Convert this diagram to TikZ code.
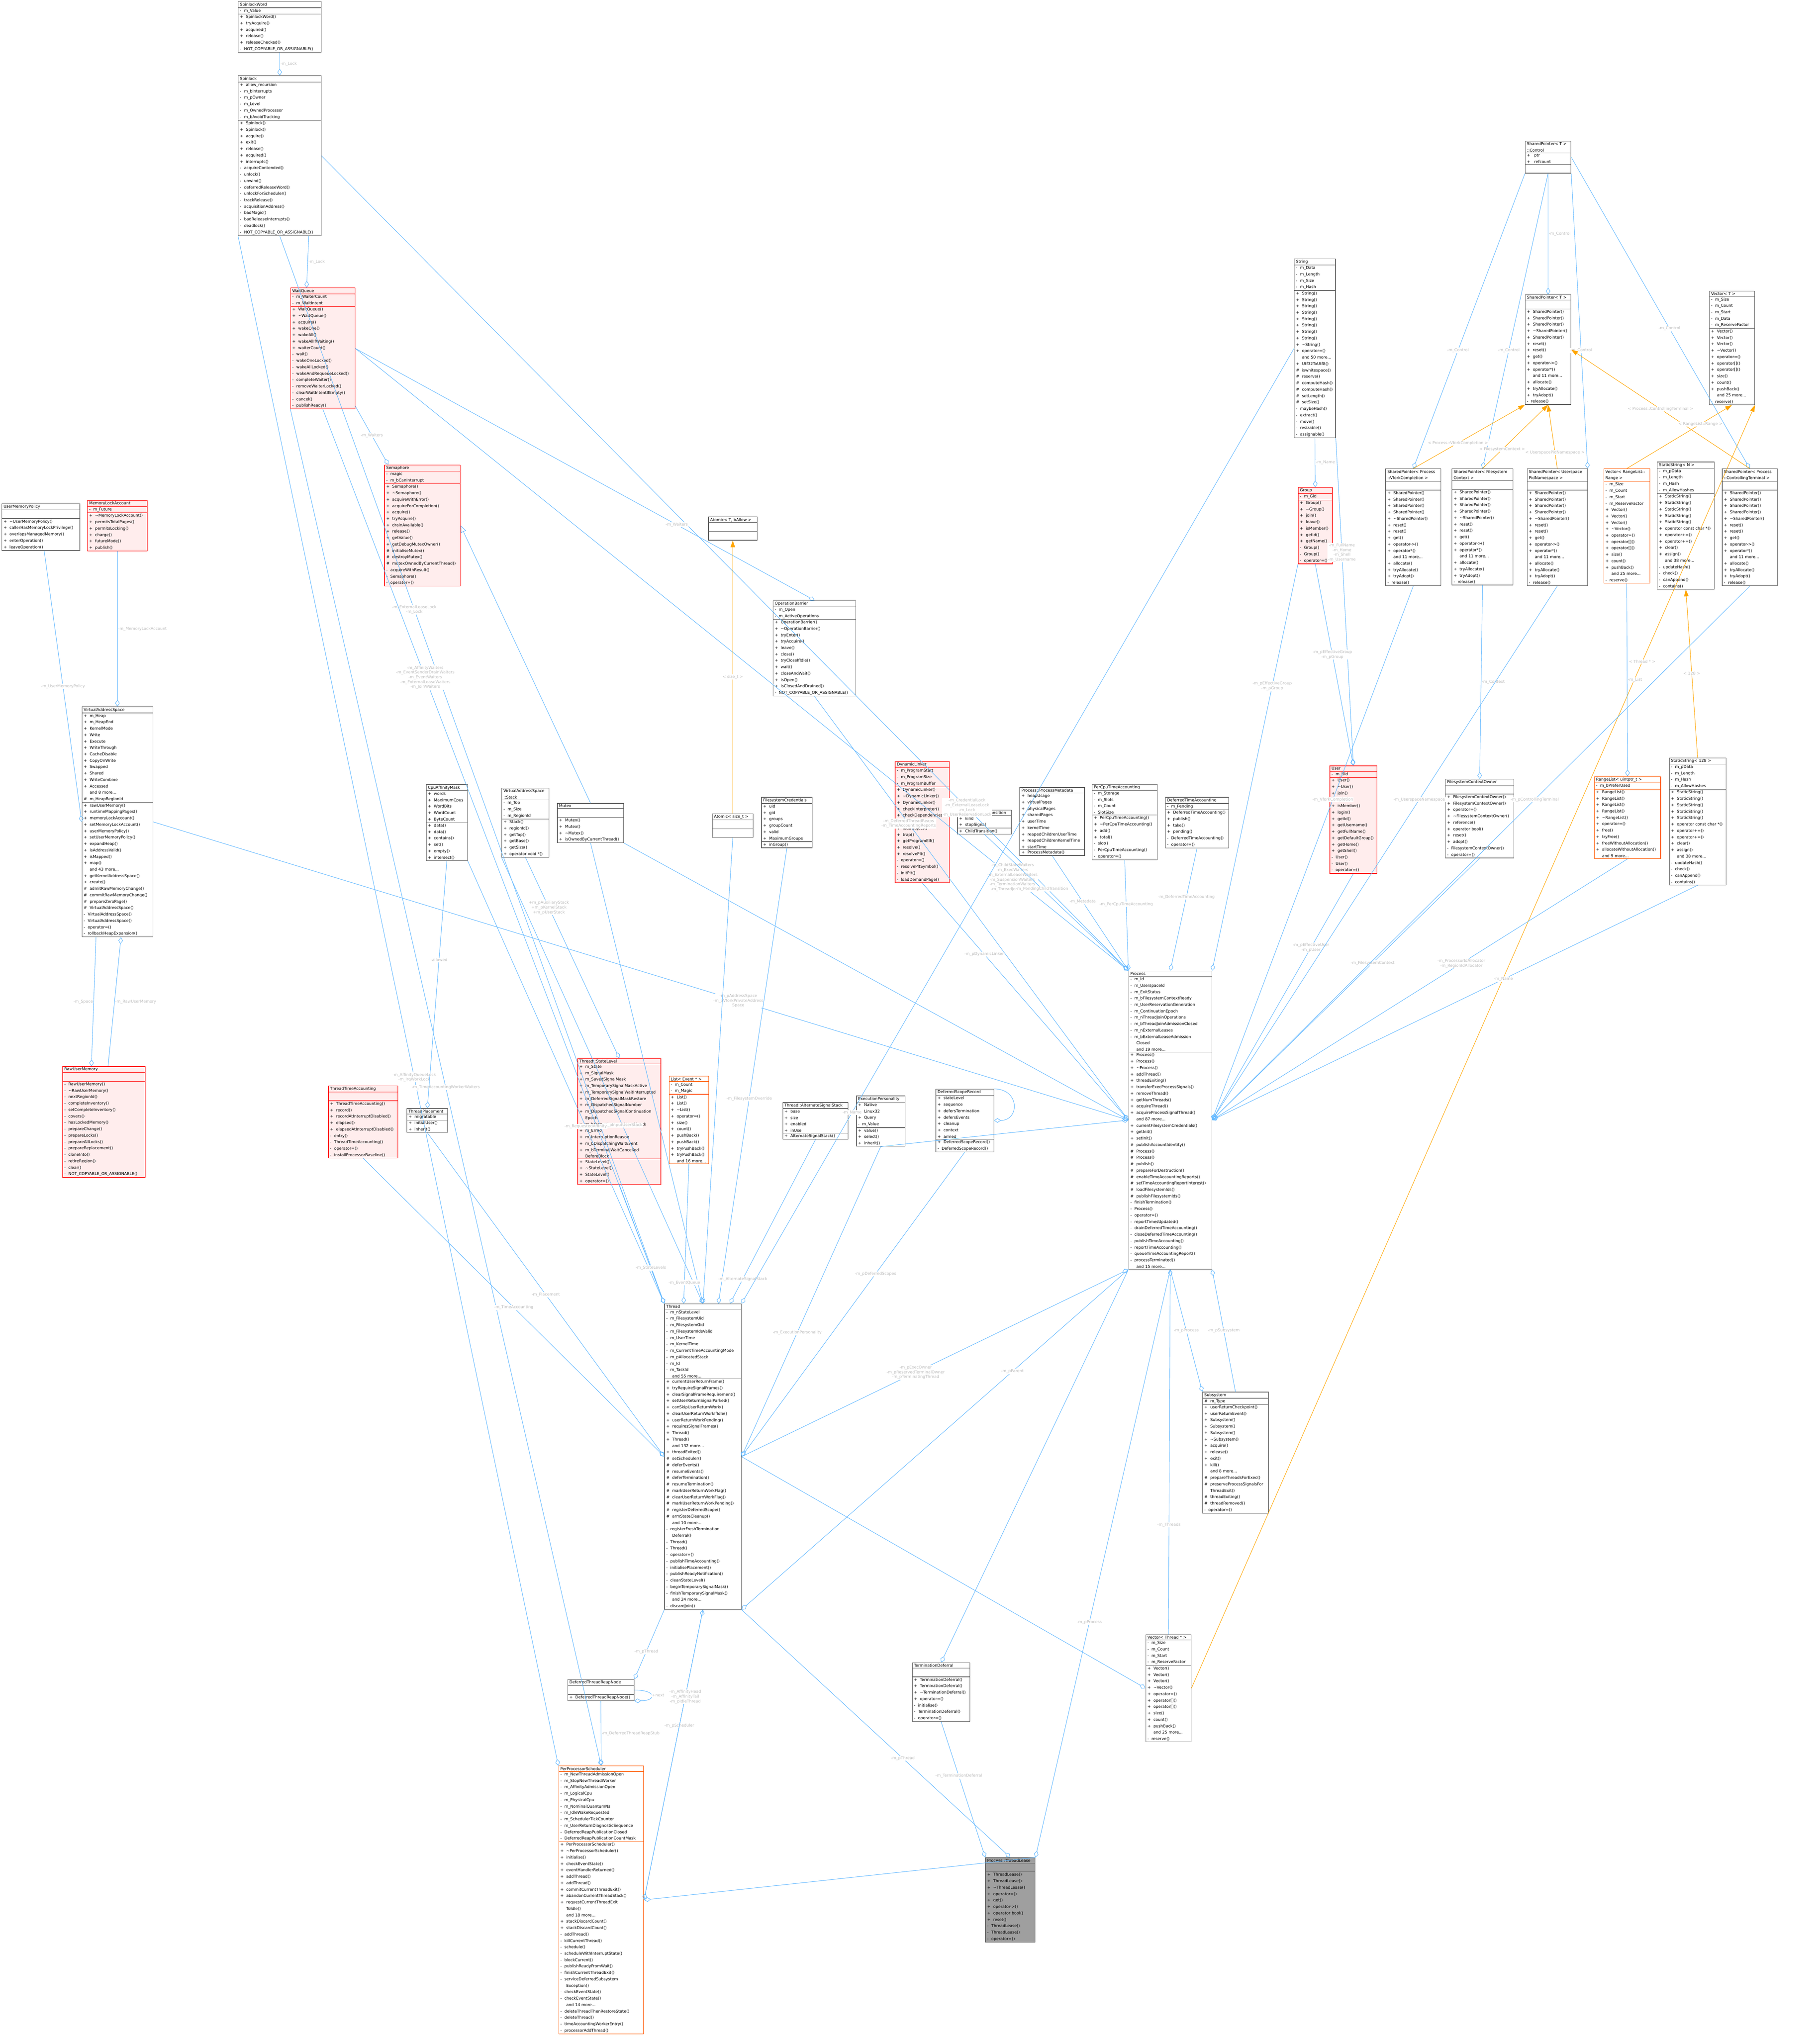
\documentclass[tikz,border=0pt]{standalone}
\usepackage{fontspec}
\setmainfont{DejaVu Sans}
\usetikzlibrary{shapes.multipart, arrows.meta, positioning, calc}
\definecolor{edgeblue}{RGB}{99,184,255}
\definecolor{tmplorange}{RGB}{255,165,0}
\definecolor{lblgray}{RGB}{190,190,190}
\tikzset{
  cls/.style={rectangle split, rectangle split parts=3, draw=gray!75!black, line width=0.45pt,
    rectangle split part align={center,left,left}, anchor=north west, fill=white,
    inner xsep=1.5pt, inner ysep=0.8pt, font=\fontsize{3.5}{5.65}\selectfont},
  redcls/.style={cls, draw=red, fill=red!7},
  orcls/.style={cls, draw=orange!70!red},
  greycls/.style={cls, fill=gray!75},
  mem/.style={draw=edgeblue, line width=0.4pt, -{Diamond[open,length=6pt,width=4pt]}},
  inh/.style={draw=edgeblue, line width=0.4pt, -{Triangle[open,length=6pt,width=5pt]}},
  tmpl/.style={draw=tmplorange, line width=0.4pt, -{Triangle[length=6pt,width=4pt]}},
  lbl/.style={text=lblgray, font=\fontsize{3.5}{4.2}\selectfont, align=center, fill=white, inner sep=0.5pt}
}
\begin{document}
\begin{tikzpicture}
\useasboundingbox (0,0) rectangle (56.35,-63.08);
% locks and wait queues
\node[cls, text width=2.46cm] (spinlockword) at (7.37,-0.04) {SpinlockWord
  \nodepart{two} - \ m\_Value
  \nodepart{three} + \ SpinlockWord()\\+ \ tryAcquire()\\+ \ acquired()\\+ \ release()\\+ \ releaseChecked()\\- \ NOT\_COPYABLE\_OR\_ASSIGNABLE()};
\node[cls, text width=2.46cm] (spinlock) at (7.37,-2.34) {Spinlock
  \nodepart{two} + \ allow\_recursion\\- \ m\_bInterrupts\\- \ m\_pOwner\\- \ m\_Level\\- \ m\_OwnedProcessor\\- \ m\_bAvoidTracking
  \nodepart{three} + \ Spinlock()\\+ \ Spinlock()\\+ \ acquire()\\+ \ exit()\\+ \ release()\\+ \ acquired()\\+ \ interrupts()\\- \ acquireContended()\\- \ unlock()\\- \ unwind()\\- \ deferredReleaseWord()\\- \ unlockForScheduler()\\- \ trackRelease()\\- \ acquisitionAddress()\\- \ badMagic()\\- \ badReleaseInterrupts()\\- \ deadlock()\\- \ NOT\_COPYABLE\_OR\_ASSIGNABLE()};
\node[redcls, text width=1.89cm] (waitqueue) at (8.99,-8.91) {WaitQueue
  \nodepart{two} - \ m\_WaiterCount\\- \ m\_WaitIntent
  \nodepart{three} + \ WaitQueue()\\+ \ \textasciitilde WaitQueue()\\+ \ acquire()\\+ \ wakeOne()\\+ \ wakeAll()\\+ \ wakeAllIfWaiting()\\+ \ waiterCount()\\- \ wait()\\- \ wakeOneLocked()\\- \ wakeAllLocked()\\- \ wakeAndRequeueLocked()\\- \ completeWaiter()\\- \ removeWaiterLocked()\\- \ clearWaitIntentIfEmpty()\\- \ cancel()\\- \ publishReady()};
\node[redcls, text width=2.24cm] (semaphore) at (11.90,-14.39) {Semaphore
  \nodepart{two} - \ magic\\- \ m\_bCanInterrupt
  \nodepart{three} + \ Semaphore()\\+ \ \textasciitilde Semaphore()\\+ \ acquireWithError()\\+ \ acquireForCompletion()\\+ \ acquire()\\+ \ tryAcquire()\\+ \ drainAvailable()\\+ \ release()\\+ \ getValue()\\+ \ getDebugMutexOwner()\\\# \ initialiseMutex()\\\# \ destroyMutex()\\\# \ mutexOwnedByCurrentThread()\\- \ acquireWithResult()\\- \ Semaphore()\\- \ operator=()};
% memory
\node[cls, text width=2.31cm] (usermempolicy) at (0.05,-15.59) {UserMemoryPolicy
  \nodepart{two} \strut
  \nodepart{three} + \ \textasciitilde UserMemoryPolicy()\\+ \ callerHasMemoryLockPrivilege()\\+ \ overlapsManagedMemory()\\+ \ enterOperation()\\+ \ leaveOperation()};
\node[redcls, text width=1.75cm] (memlockaccount) at (2.70,-15.49) {MemoryLockAccount
  \nodepart{two} - \ m\_Future
  \nodepart{three} + \ \textasciitilde MemoryLockAccount()\\+ \ permitsTotalPages()\\+ \ permitsLocking()\\+ \ charge()\\+ \ futureMode()\\+ \ publish()};
\node[cls, text width=2.09cm] (addrspace) at (2.53,-21.88) {VirtualAddressSpace
  \nodepart{two} + \ m\_Heap\\+ \ m\_HeapEnd\\+ \ KernelMode\\+ \ Write\\+ \ Execute\\+ \ WriteThrough\\+ \ CacheDisable\\+ \ CopyOnWrite\\+ \ Swapped\\+ \ Shared\\+ \ WriteCombine\\+ \ Accessed\\\phantom{+} \ and 8 more...\\\# \ m\_HeapRegionId
  \nodepart{three} + \ rawUserMemory()\\+ \ runtimeMappingPages()\\+ \ memoryLockAccount()\\+ \ setMemoryLockAccount()\\+ \ userMemoryPolicy()\\+ \ setUserMemoryPolicy()\\+ \ expandHeap()\\+ \ isAddressValid()\\+ \ isMapped()\\+ \ map()\\\phantom{+} \ and 43 more...\\+ \ getKernelAddressSpace()\\+ \ create()\\\# \ admitRawMemoryChange()\\\# \ commitRawMemoryChange()\\\# \ prepareZeroPage()\\\# \ VirtualAddressSpace()\\- \ VirtualAddressSpace()\\- \ VirtualAddressSpace()\\- \ operator=()\\- \ rollbackHeapExpansion()};
\node[redcls, text width=2.45cm] (rawusermem) at (1.93,-33.02) {RawUserMemory
  \nodepart{two} \strut
  \nodepart{three} - \ RawUserMemory()\\- \ \textasciitilde RawUserMemory()\\- \ nextRegionId()\\- \ completeInventory()\\- \ setCompleteInventory()\\- \ covers()\\- \ hasLockedMemory()\\- \ prepareChange()\\- \ prepareLocks()\\- \ prepareAllLocks()\\- \ prepareReplacement()\\- \ cloneInto()\\- \ retireRegion()\\- \ clear()\\- \ NOT\_COPYABLE\_OR\_ASSIGNABLE()};
\node[cls, text width=1.17cm] (cpuaffinity) at (13.19,-24.29) {CpuAffinityMask
  \nodepart{two} + \ words\\+ \ MaximumCpus\\+ \ WordBits\\+ \ WordCount\\+ \ ByteCount
  \nodepart{three} + \ data()\\+ \ data()\\+ \ contains()\\+ \ set()\\+ \ empty()\\+ \ intersect()};
\node[cls, text width=1.36cm] (vastack) at (15.53,-24.40) {VirtualAddressSpace\\::Stack
  \nodepart{two} - \ m\_Top\\- \ m\_Size\\- \ m\_RegionId
  \nodepart{three} + \ Stack()\\+ \ regionId()\\+ \ getTop()\\+ \ getBase()\\+ \ getSize()\\+ \ operator void *()};
\node[cls, text width=1.95cm] (mutex) at (17.25,-24.87) {Mutex
  \nodepart{two} \strut
  \nodepart{three} + \ Mutex()\\+ \ Mutex()\\+ \ \textasciitilde Mutex()\\+ \ isOwnedByCurrentThread()};
% thread parts
\node[redcls, text width=2.05cm] (threadtime) at (10.16,-33.62) {ThreadTimeAccounting
  \nodepart{two} \strut
  \nodepart{three} + \ ThreadTimeAccounting()\\+ \ record()\\+ \ recordAtInterruptDisabled()\\+ \ elapsed()\\+ \ elapsedAtInterruptDisabled()\\- \ entry()\\- \ ThreadTimeAccounting()\\- \ operator=()\\- \ installProcessorBaseline()};
\node[cls, text width=1.16cm] (placement) at (12.59,-34.32) {ThreadPlacement
  \nodepart{two} + \ migratable
  \nodepart{three} + \ initialUser()\\+ \ inherit()};
\node[redcls, text width=2.47cm] (statelevel) at (17.88,-32.77) {Thread::StateLevel
  \nodepart{two} + \ m\_State\\+ \ m\_SignalMask\\+ \ m\_SavedSignalMask\\+ \ m\_TemporarySignalMaskActive\\+ \ m\_TemporarySignalWaitInterrupted\\+ \ m\_DeferredSignalMaskRestore\\+ \ m\_DispatchedSignalNumber\\+ \ m\_DispatchedSignalContinuation\\\phantom{+} \ Epoch\\+ \ m\_bOwnsAlternateSignalStack\\+ \ m\_Errno\\+ \ m\_InterruptionReason\\+ \ m\_bDispatchingWaitEvent\\+ \ m\_bTerminalWaitCancelled\\\phantom{+} \ BeforeBlock
  \nodepart{three} + \ StateLevel()\\+ \ \textasciitilde StateLevel()\\+ \ StateLevel()\\+ \ operator=()};
\node[orcls, text width=1.12cm] (eventlist) at (20.71,-33.32) {List< Event * >
  \nodepart{two} - \ m\_Count\\- \ m\_Magic
  \nodepart{three} + \ List()\\+ \ List()\\+ \ \textasciitilde List()\\+ \ operator=()\\+ \ size()\\+ \ count()\\+ \ pushBack()\\+ \ pushBack()\\+ \ tryPushBack()\\+ \ tryPushBack()\\\phantom{+} \ and 16 more...};
\node[cls, text width=1.92cm] (altstack) at (24.23,-34.13) {Thread::AlternateSignalStack
  \nodepart{two} + \ base\\+ \ size\\+ \ enabled\\+ \ inUse
  \nodepart{three} + \ AlternateSignalStack()};
\node[cls, text width=1.40cm] (personality) at (26.51,-33.93) {ExecutionPersonality
  \nodepart{two} + \ Native\\+ \ Linux32\\+ \ Query\\- \ m\_Value
  \nodepart{three} + \ value()\\+ \ select()\\+ \ inherit()};
\node[cls, text width=1.69cm] (scoperecord) at (28.97,-33.72) {DeferredScopeRecord
  \nodepart{two} + \ stateLevel\\+ \ sequence\\+ \ defersTermination\\+ \ defersEvents\\+ \ cleanup\\+ \ context\\+ \ armed
  \nodepart{three} + \ DeferredScopeRecord()\\- \ DeferredScopeRecord()};
\node[cls, text width=2.27cm] (thread) at (20.57,-40.37) {Thread
  \nodepart{two} - \ m\_nStateLevel\\- \ m\_FilesystemUid\\- \ m\_FilesystemGid\\- \ m\_FilesystemIdsValid\\- \ m\_UserTime\\- \ m\_KernelTime\\- \ m\_CurrentTimeAccountingMode\\- \ m\_pAllocatedStack\\- \ m\_Id\\- \ m\_TaskId\\\phantom{+} \ and 55 more...
  \nodepart{three} + \ currentUserReturnFrame()\\+ \ tryRequireSignalFrames()\\+ \ clearSignalFrameRequirement()\\+ \ setUserReturnSignalParked()\\+ \ canSkipUserReturnWork()\\+ \ clearUserReturnWorkIfIdle()\\+ \ userReturnWorkPending()\\+ \ requiresSignalFrames()\\+ \ Thread()\\+ \ Thread()\\\phantom{+} \ and 132 more...\\+ \ threadExited()\\\# \ setScheduler()\\\# \ deferEvents()\\\# \ resumeEvents()\\\# \ deferTermination()\\\# \ resumeTermination()\\\# \ markUserReturnWorkFlag()\\\# \ clearUserReturnWorkFlag()\\\# \ markUserReturnWorkPending()\\\# \ registerDeferredScope()\\\# \ armStateCleanup()\\\phantom{+} \ and 10 more...\\- \ registerFreshTermination\\\phantom{+} \ Deferral()\\- \ Thread()\\- \ Thread()\\- \ operator=()\\- \ publishTimeAccounting()\\- \ initialisePlacement()\\- \ publishReadyNotification()\\- \ cleanStateLevel()\\- \ beginTemporarySignalMask()\\- \ finishTemporarySignalMask()\\\phantom{+} \ and 24 more...\\- \ discardJoin()};
% scheduler side
\node[cls, text width=1.95cm] (reapnode) at (17.57,-52.00) {DeferredThreadReapNode
  \nodepart{two} \strut
  \nodepart{three} + \ DeferredThreadReapNode()};
\node[orcls, text width=2.53cm] (scheduler) at (17.29,-54.68) {PerProcessorScheduler
  \nodepart{two} - \ m\_NewThreadAdmissionOpen\\- \ m\_StopNewThreadWorker\\- \ m\_AffinityAdmissionOpen\\- \ m\_LogicalCpu\\- \ m\_PhysicalCpu\\- \ m\_NominalQuantumNs\\- \ m\_IdleWakeRequested\\- \ m\_SchedulerTickCounter\\- \ m\_UserReturnDiagnosticSequence\\- \ DeferredReapPublicationClosed\\- \ DeferredReapPublicationCountMask
  \nodepart{three} + \ PerProcessorScheduler()\\+ \ \textasciitilde PerProcessorScheduler()\\+ \ initialise()\\+ \ checkEventState()\\+ \ eventHandlerReturned()\\+ \ addThread()\\+ \ addThread()\\+ \ commitCurrentThreadExit()\\+ \ abandonCurrentThreadStack()\\+ \ requestCurrentThreadExit\\\phantom{+} \ ToIdle()\\\phantom{+} \ and 18 more...\\+ \ stackDiscardCount()\\+ \ stackDiscardCount()\\- \ addThread()\\- \ killCurrentThread()\\- \ schedule()\\- \ scheduleWithInterruptState()\\- \ blockCurrent()\\- \ publishReadyFromWait()\\- \ finishCurrentThreadExit()\\- \ serviceDeferredSubsystem\\\phantom{+} \ Exception()\\- \ checkEventState()\\- \ checkEventState()\\\phantom{+} \ and 14 more...\\- \ deleteThreadThenRestoreState()\\- \ deleteThread()\\- \ timeAccountingWorkerEntry()\\- \ processorAddThread()};
\node[cls, text width=1.68cm] (termdeferral) at (28.24,-51.48) {TerminationDeferral
  \nodepart{two} \strut
  \nodepart{three} + \ TerminationDeferral()\\+ \ TerminationDeferral()\\+ \ \textasciitilde TerminationDeferral()\\+ \ operator=()\\- \ initialise()\\- \ TerminationDeferral()\\- \ operator=()};
\node[greycls, text width=1.43cm] (threadlease) at (30.51,-57.52) {Process::ThreadLease
  \nodepart{two} \strut
  \nodepart{three} + \ ThreadLease()\\+ \ ThreadLease()\\+ \ \textasciitilde ThreadLease()\\+ \ operator=()\\+ \ get()\\+ \ operator->()\\+ \ operator bool()\\+ \ reset()\\- \ ThreadLease()\\- \ ThreadLease()\\- \ operator=()};
\node[cls, text width=1.30cm] (threadvector) at (35.47,-50.61) {Vector< Thread * >
  \nodepart{two} - \ m\_Size\\- \ m\_Count\\- \ m\_Start\\- \ m\_ReserveFactor
  \nodepart{three} + \ Vector()\\+ \ Vector()\\+ \ Vector()\\+ \ \textasciitilde Vector()\\+ \ operator=()\\+ \ operator[]()\\+ \ operator[]()\\+ \ size()\\+ \ count()\\+ \ pushBack()\\\phantom{+} \ and 25 more...\\- \ reserve()};
\node[cls, text width=1.93cm] (subsystem) at (37.23,-43.10) {Subsystem
  \nodepart{two} \# \ m\_Type
  \nodepart{three} + \ userReturnCheckpoint()\\+ \ userReturnEvent()\\+ \ Subsystem()\\+ \ Subsystem()\\+ \ Subsystem()\\+ \ \textasciitilde Subsystem()\\+ \ acquire()\\+ \ release()\\+ \ exit()\\+ \ kill()\\\phantom{+} \ and 8 more...\\\# \ prepareThreadsForExec()\\\# \ preserveProcessSignalsFor\\\phantom{+} \ ThreadExit()\\\# \ threadExiting()\\\# \ threadRemoved()\\- \ operator=()};
% process parts
\node[cls, text width=1.40cm] (atomicT) at (21.93,-16.00) {Atomic< T, bAllow >
  \nodepart{two} \strut
  \nodepart{three} \strut};
\node[cls, text width=1.16cm] (atomicsize) at (22.05,-25.19) {Atomic< size\_t >
  \nodepart{two} \strut
  \nodepart{three} \strut};
\node[cls, text width=2.46cm] (barrier) at (23.93,-18.59) {OperationBarrier
  \nodepart{two} - \ m\_Open\\- \ m\_ActiveOperations
  \nodepart{three} + \ OperationBarrier()\\+ \ \textasciitilde OperationBarrier()\\+ \ tryEnter()\\+ \ tryAcquire()\\+ \ leave()\\+ \ close()\\+ \ tryCloseIfIdle()\\+ \ wait()\\+ \ closeAndWait()\\+ \ isOpen()\\+ \ isClosedAndDrained()\\- \ NOT\_COPYABLE\_OR\_ASSIGNABLE()};
\node[cls, text width=1.47cm] (fscreds) at (23.57,-24.68) {FilesystemCredentials
  \nodepart{two} + \ uid\\+ \ gid\\+ \ groups\\+ \ groupCount\\+ \ valid\\+ \ MaximumGroups
  \nodepart{three} + \ inGroup()};
\node[redcls, text width=1.58cm] (dynlinker) at (27.71,-23.58) {DynamicLinker
  \nodepart{two} - \ m\_ProgramStart\\- \ m\_ProgramSize\\- \ m\_ProgramBuffer
  \nodepart{three} + \ DynamicLinker()\\+ \ \textasciitilde DynamicLinker()\\+ \ DynamicLinker()\\+ \ checkInterpreter()\\+ \ checkDependencies()\\+ \ loadProgram()\\+ \ loadObject()\\+ \ trap()\\+ \ getProgramElf()\\+ \ resolve()\\+ \ resolvePlt()\\- \ operator=()\\- \ resolvePltSymbol()\\- \ initPlt()\\- \ loadDemandPage()};
\node[cls, text width=1.56cm] (childtrans) at (29.64,-25.08) {Process::ChildTransition
  \nodepart{two} + \ kind\\+ \ stopSignal
  \nodepart{three} + \ ChildTransition()};
\node[cls, text width=1.90cm] (metadata) at (31.57,-24.38) {Process::ProcessMetadata
  \nodepart{two} + \ heapUsage\\+ \ virtualPages\\+ \ physicalPages\\+ \ sharedPages\\+ \ userTime\\+ \ kernelTime\\+ \ reapedChildrenUserTime\\+ \ reapedChildrenKernelTime\\+ \ startTime
  \nodepart{three} + \ ProcessMetadata()};
\node[cls, text width=1.91cm] (percpu) at (33.81,-24.28) {PerCpuTimeAccounting
  \nodepart{two} - \ m\_Storage\\- \ m\_Slots\\- \ m\_Count\\- \ SlotSize
  \nodepart{three} + \ PerCpuTimeAccounting()\\+ \ \textasciitilde PerCpuTimeAccounting()\\+ \ add()\\+ \ total()\\- \ slot()\\- \ PerCpuTimeAccounting()\\- \ operator=()};
\node[cls, text width=1.85cm] (deferredtime) at (36.08,-24.68) {DeferredTimeAccounting
  \nodepart{two} - \ m\_Pending
  \nodepart{three} + \ DeferredTimeAccounting()\\+ \ publish()\\+ \ take()\\+ \ pending()\\- \ DeferredTimeAccounting()\\- \ operator=()};
\node[cls, text width=2.47cm] (process) at (34.94,-30.06) {Process
  \nodepart{two} - \ m\_Id\\- \ m\_UserspaceId\\- \ m\_ExitStatus\\- \ m\_bFilesystemContextReady\\- \ m\_UserReservationGeneration\\- \ m\_ContinuationEpoch\\- \ m\_nThreadJoinOperations\\- \ m\_bThreadJoinAdmissionClosed\\- \ m\_nExternalLeases\\- \ m\_bExternalLeaseAdmission\\\phantom{+} \ Closed\\\phantom{+} \ and 19 more...
  \nodepart{three} + \ Process()\\+ \ Process()\\+ \ \textasciitilde Process()\\+ \ addThread()\\+ \ threadExiting()\\+ \ transferExecProcessSignals()\\+ \ removeThread()\\+ \ getNumThreads()\\+ \ acquireThread()\\+ \ acquireProcessSignalThread()\\\phantom{+} \ and 87 more...\\+ \ currentFilesystemCredentials()\\+ \ getInit()\\+ \ setInit()\\\# \ publishAccountIdentity()\\\# \ Process()\\\# \ Process()\\\# \ publish()\\\# \ prepareForDestruction()\\\# \ enableTimeAccountingReports()\\\# \ setTimeAccountingReportInterest()\\\# \ loadFilesystemIds()\\\# \ publishFilesystemIds()\\- \ finishTermination()\\- \ Process()\\- \ operator=()\\- \ reportTimesUpdated()\\- \ drainDeferredTimeAccounting()\\- \ closeDeferredTimeAccounting()\\- \ publishTimeAccounting()\\- \ reportTimeAccounting()\\- \ queueTimeAccountingReport()\\- \ processTerminated()\\\phantom{+} \ and 15 more...};
% accounts and strings
\node[cls, text width=1.17cm] (string) at (40.07,-8.01) {String
  \nodepart{two} - \ m\_Data\\- \ m\_Length\\- \ m\_Size\\- \ m\_Hash
  \nodepart{three} + \ String()\\+ \ String()\\+ \ String()\\+ \ String()\\+ \ String()\\+ \ String()\\+ \ String()\\+ \ String()\\+ \ \textasciitilde String()\\+ \ operator=()\\\phantom{+} \ and 50 more...\\+ \ Utf32ToUtf8()\\\# \ iswhitespace()\\\# \ reserve()\\\# \ computeHash()\\\# \ computeHash()\\\# \ setLength()\\\# \ setSize()\\- \ maybeHash()\\- \ extract()\\- \ move()\\- \ resizable()\\- \ assignable()};
\node[redcls, text width=0.95cm] (group) at (40.19,-15.09) {Group
  \nodepart{two} - \ m\_Gid
  \nodepart{three} + \ Group()\\+ \ \textasciitilde Group()\\+ \ join()\\+ \ leave()\\+ \ isMember()\\+ \ getId()\\+ \ getName()\\- \ Group()\\- \ Group()\\- \ operator=()};
\node[redcls, text width=1.35cm] (user) at (41.17,-23.71) {User
  \nodepart{two} - \ m\_Uid
  \nodepart{three} + \ User()\\+ \ \textasciitilde User()\\+ \ join()\\+ \ leave()\\+ \ isMember()\\+ \ login()\\+ \ getId()\\+ \ getUsername()\\+ \ getFullName()\\+ \ getDefaultGroup()\\+ \ getHome()\\+ \ getShell()\\- \ User()\\- \ User()\\- \ operator=()};
% shared pointers and containers
\node[cls, text width=1.31cm] (spcontrol) at (47.22,-4.36) {SharedPointer< T >\\::Control
  \nodepart{two} + \ \ ptr\\+ \ \ refcount
  \nodepart{three} \strut};
\node[cls, text width=1.31cm] (sharedptr) at (47.22,-9.12) {SharedPointer< T >
  \nodepart{two} \strut
  \nodepart{three} + \ SharedPointer()\\+ \ SharedPointer()\\+ \ SharedPointer()\\+ \ \textasciitilde SharedPointer()\\+ \ SharedPointer()\\+ \ reset()\\+ \ reset()\\+ \ get()\\+ \ operator->()\\+ \ operator*()\\\phantom{+} \ and 11 more...\\+ \ allocate()\\+ \ tryAllocate()\\+ \ tryAdopt()\\- \ release()};
\node[cls, text width=1.30cm] (vectorT) at (52.92,-9.01) {Vector< T >
  \nodepart{two} - \ m\_Size\\- \ m\_Count\\- \ m\_Start\\- \ m\_Data\\- \ m\_ReserveFactor
  \nodepart{three} + \ Vector()\\+ \ Vector()\\+ \ Vector()\\+ \ \textasciitilde Vector()\\+ \ operator=()\\+ \ operator[]()\\+ \ operator[]()\\+ \ size()\\+ \ count()\\+ \ pushBack()\\\phantom{+} \ and 25 more...\\- \ reserve()};
\node[cls, text width=1.60cm] (spvfork) at (42.90,-14.51) {SharedPointer< Process\\::VforkCompletion >
  \nodepart{two} \strut
  \nodepart{three} + \ SharedPointer()\\+ \ SharedPointer()\\+ \ SharedPointer()\\+ \ SharedPointer()\\+ \ \textasciitilde SharedPointer()\\+ \ reset()\\+ \ reset()\\+ \ get()\\+ \ operator->()\\+ \ operator*()\\\phantom{+} \ and 11 more...\\+ \ allocate()\\+ \ tryAllocate()\\+ \ tryAdopt()\\- \ release()};
\node[cls, text width=1.79cm] (spfsctx) at (44.95,-14.51) {SharedPointer< Filesystem\\Context >
  \nodepart{two} \strut
  \nodepart{three} + \ SharedPointer()\\+ \ SharedPointer()\\+ \ SharedPointer()\\+ \ SharedPointer()\\+ \ \textasciitilde SharedPointer()\\+ \ reset()\\+ \ reset()\\+ \ get()\\+ \ operator->()\\+ \ operator*()\\\phantom{+} \ and 11 more...\\+ \ allocate()\\+ \ tryAllocate()\\+ \ tryAdopt()\\- \ release()};
\node[cls, text width=1.76cm] (sppidns) at (47.28,-14.51) {SharedPointer< Userspace\\PidNamespace >
  \nodepart{two} \strut
  \nodepart{three} + \ SharedPointer()\\+ \ SharedPointer()\\+ \ SharedPointer()\\+ \ SharedPointer()\\+ \ \textasciitilde SharedPointer()\\+ \ reset()\\+ \ reset()\\+ \ get()\\+ \ operator->()\\+ \ operator*()\\\phantom{+} \ and 11 more...\\+ \ allocate()\\+ \ tryAllocate()\\+ \ tryAdopt()\\- \ release()};
\node[orcls, text width=1.32cm] (rangevector) at (49.65,-14.51) {Vector< RangeList::\\Range >
  \nodepart{two} - \ m\_Size\\- \ m\_Count\\- \ m\_Start\\- \ m\_ReserveFactor
  \nodepart{three} + \ Vector()\\+ \ Vector()\\+ \ Vector()\\+ \ \textasciitilde Vector()\\+ \ operator=()\\+ \ operator[]()\\+ \ operator[]()\\+ \ size()\\+ \ count()\\+ \ pushBack()\\\phantom{+} \ and 25 more...\\- \ reserve()};
\node[cls, text width=1.66cm] (staticN) at (51.31,-14.30) {StaticString< N >
  \nodepart{two} - \ m\_pData\\- \ m\_Length\\- \ m\_Hash\\- \ m\_AllowHashes
  \nodepart{three} + \ StaticString()\\+ \ StaticString()\\+ \ StaticString()\\+ \ StaticString()\\+ \ StaticString()\\+ \ operator const char *()\\+ \ operator+=()\\+ \ operator+=()\\+ \ clear()\\+ \ assign()\\\phantom{+} \ and 38 more...\\- \ updateHash()\\- \ check()\\- \ canAppend()\\- \ contains()};
\node[cls, text width=1.60cm] (spterminal) at (53.32,-14.51) {SharedPointer< Process\\::ControllingTerminal >
  \nodepart{two} \strut
  \nodepart{three} + \ SharedPointer()\\+ \ SharedPointer()\\+ \ SharedPointer()\\+ \ SharedPointer()\\+ \ \textasciitilde SharedPointer()\\+ \ reset()\\+ \ reset()\\+ \ get()\\+ \ operator->()\\+ \ operator*()\\\phantom{+} \ and 11 more...\\+ \ allocate()\\+ \ tryAllocate()\\+ \ tryAdopt()\\- \ release()};
\node[cls, text width=2.01cm] (fsowner) at (44.75,-24.12) {FilesystemContextOwner
  \nodepart{two} \strut
  \nodepart{three} + \ FilesystemContextOwner()\\+ \ FilesystemContextOwner()\\+ \ operator=()\\+ \ \textasciitilde FilesystemContextOwner()\\+ \ reference()\\+ \ operator bool()\\+ \ reset()\\+ \ adopt()\\- \ FilesystemContextOwner()\\- \ operator=()};
\node[orcls, text width=1.95cm] (rangelist) at (49.36,-24.04) {RangeList< uintptr\_t >
  \nodepart{two} - \ m\_bPreferUsed
  \nodepart{three} + \ RangeList()\\+ \ RangeList()\\+ \ RangeList()\\+ \ RangeList()\\+ \ \textasciitilde RangeList()\\+ \ operator=()\\+ \ free()\\+ \ tryFree()\\+ \ freeWithoutAllocation()\\+ \ allocateWithoutAllocation()\\\phantom{+} \ and 9 more...};
\node[cls, text width=1.65cm] (static128) at (51.68,-23.46) {StaticString< 128 >
  \nodepart{two} - \ m\_pData\\- \ m\_Length\\- \ m\_Hash\\- \ m\_AllowHashes
  \nodepart{three} + \ StaticString()\\+ \ StaticString()\\+ \ StaticString()\\+ \ StaticString()\\+ \ StaticString()\\+ \ operator const char *()\\+ \ operator+=()\\+ \ operator+=()\\+ \ clear()\\+ \ assign()\\\phantom{+} \ and 38 more...\\- \ updateHash()\\- \ check()\\- \ canAppend()\\- \ contains()};
% members
\draw[mem] (spinlockword) -- node[lbl, right]{-m\_Lock} (spinlock);
\draw[mem] ($(spinlock.south)+(0.9,0)$) -- node[lbl, right]{-m\_Lock} ($(waitqueue.north west)!0.25!(waitqueue.north east)$);
\draw[mem] (spinlock.east) -- node[lbl, pos=0.8]{-m\_CredentialLock\\-m\_ExternalLeaseLock\\-m\_Lock\\-m\_UserReservationLock} (process.north west);
\draw[mem] (spinlock.south) -- node[lbl, pos=0.35]{-m\_ExternalLeaseLock\\-m\_Lock} (thread.north west);
\draw[mem] (spinlock.south west) -- node[lbl, pos=0.55]{-m\_AffinityQueueLock\\-m\_IrqWorkLock} (scheduler.north west);
\draw[mem] (waitqueue) -- node[lbl]{-m\_Waiters} (semaphore);
\draw[inh] (mutex.north) -- (semaphore.east);
\draw[mem] (waitqueue.south) -- node[lbl, pos=0.3]{-m\_AffinityWaiters\\-m\_EventSenderDrainWaiters\\-m\_EventWaiters\\-m\_ExternalLeaseWaiters\\-m\_JoinWaiters} (thread.north west);
\draw[mem] (waitqueue.south west) -- node[lbl, pos=0.5]{-m\_TimeAccountingWorkerWaiters} (scheduler.north);
\draw[mem] (waitqueue.east) -- node[lbl, pos=0.85]{-m\_ChildStateWaiters\\-m\_ExecWaiters\\-m\_ExternalLeaseWaiters\\-m\_SuspensionWaiters\\-m\_TerminationWaiters\\-m\_ThreadJoinWaiters} (process.north west);
\draw[mem] (waitqueue.east) -- node[lbl, pos=0.7]{-m\_Waiters} (barrier.north);
\draw[mem] (usermempolicy) -- node[lbl, pos=0.5]{-m\_UserMemoryPolicy} (addrspace.west);
\draw[mem] (memlockaccount) -- node[lbl, right]{-m\_MemoryLockAccount} (addrspace);
\draw[mem] ($(addrspace.south west)!0.2!(addrspace.south east)$) -- node[lbl, left]{-m\_Space} ($(rawusermem.north west)!0.35!(rawusermem.north east)$);
\draw[mem] ($(rawusermem.north west)!0.55!(rawusermem.north east)$) -- node[lbl, right]{-m\_RawUserMemory} ($(addrspace.south west)!0.55!(addrspace.south east)$);
\draw[mem] (addrspace.east) -- node[lbl, pos=0.6]{-m\_pAddressSpace\\-m\_pVforkPrivateAddress\\Space} (process.west);
\draw[mem] (vastack.south) -- node[lbl, pos=0.25]{+m\_pAuxiliaryStack\\+m\_pKernelStack\\+m\_pUserStack} (statelevel.north);
\draw[mem] (vastack.south west) -- node[lbl, pos=0.6]{-m\_pInputUserStack} (thread.north);
\draw[mem] (cpuaffinity.south) -- node[lbl, pos=0.4]{-allowed} (placement.north);
\draw[mem] (cpuaffinity.south east) -- node[lbl, pos=0.6]{-m\_RequestedAffinity} (thread.north west);
\draw[mem] (mutex.south) -- (thread.north);
\draw[mem] (mutex.south east) -- (process.west);
\draw[mem] (threadtime.south) -- node[lbl, pos=0.5]{-m\_TimeAccounting} (thread.west);
\draw[mem] (placement.south) -- node[lbl, pos=0.5]{-m\_Placement} (thread.west);
\draw[mem] (statelevel.south) -- node[lbl, pos=0.7]{-m\_StateLevels} (thread.north west);
\draw[mem] (eventlist.south) -- node[lbl, pos=0.85]{-m\_EventQueue} ($(thread.north west)!0.25!(thread.north east)$);
\draw[mem] (fscreds.south) -- node[lbl, pos=0.55]{-m\_FilesystemOverride} ($(thread.north west)!0.7!(thread.north east)$);
\draw[mem] (altstack.south) -- node[lbl, pos=0.85]{-m\_AlternateSignalStack} ($(thread.north west)!0.85!(thread.north east)$);
\draw[mem] (personality.south) -- node[lbl, pos=0.6]{-m\_ExecutionPersonality} (thread.east);
\draw[mem] (personality.south) -- (process.west);
\draw[mem] (scoperecord.south) -- node[lbl, pos=0.4]{-m\_pDeferredScopes} (thread.east);
\draw[mem] (scoperecord.north east) .. controls +(0.8,0) and +(0.8,0) .. (scoperecord.east);
\draw[mem] (thread.east) -- node[lbl, pos=0.45]{-m\_pExecOwner\\-m\_pReservedTerminalOwner\\-m\_pTerminatingThread} (process.south west);
\draw[mem] (process.south west) -- node[lbl, pos=0.3]{-m\_pParent} (thread.south east);
\draw[mem] (string.west) -- node[lbl, pos=0.8]{-m\_Name} (thread.north east);
\draw[tmpl] (atomicsize.north) -- node[lbl]{< size\_t >} (atomicT.south);
\draw[mem] (atomicsize.south) -- (thread.north);
\draw[mem] (barrier.south) -- node[lbl, pos=0.3]{-m\_DeferredThreadReaps\\-m\_TimeAccountingReports} (process.west);
\draw[mem] (dynlinker.south) -- node[lbl, pos=0.3]{-m\_pDynamicLinker} (process.west);
\draw[mem] (childtrans.south) -- node[lbl, pos=0.4]{-m\_PendingChildTransition} (process.north west);
\draw[mem] (metadata.south) -- node[lbl, pos=0.4]{-m\_Metadata} (process.north west);
\draw[mem] (percpu.south) -- node[lbl, pos=0.4]{-m\_PerCpuTimeAccounting} (process.north west);
\draw[mem] (deferredtime.south) -- node[lbl, pos=0.4]{-m\_DeferredTimeAccounting} (process.north);
\draw[mem] (string.south) -- node[lbl, right]{-m\_Name} (group.north);
\draw[mem] (string.south east) -- node[lbl, pos=0.35]{-m\_FullName\\-m\_Home\\-m\_Shell\\-m\_Username} (user.north);
\draw[mem] (group.south) -- node[lbl, pos=0.45]{-m\_pEffectiveGroup\\-m\_pGroup} (user.north);
\draw[mem] (group.south west) -- node[lbl, pos=0.3]{-m\_pEffectiveGroup\\-m\_pGroup} (process.north east);
\draw[mem] (user.south) -- node[lbl, pos=0.3]{-m\_pEffectiveUser\\-m\_pUser} (process.east);
\draw[mem] (spcontrol.south west) -- node[lbl, pos=0.6]{-m\_Control} (spvfork.north);
\draw[mem] (spcontrol.south) -- node[lbl, pos=0.6]{-m\_Control} (spfsctx.north);
\draw[mem] (spcontrol) -- node[lbl, right]{-m\_Control} (sharedptr);
\draw[mem] (spcontrol.south east) -- node[lbl, pos=0.6]{-m\_Control} (sppidns.north east);
\draw[mem] (spcontrol.east) -- node[lbl, pos=0.55]{-m\_Control} (spterminal.north);
\draw[tmpl] (spvfork.north) -- node[lbl, pos=0.4]{< Process::VforkCompletion >} (sharedptr.south west);
\draw[tmpl] (spfsctx.north) -- node[lbl, pos=0.3]{< FilesystemContext >} (sharedptr.south);
\draw[tmpl] (sppidns.north) -- node[lbl, pos=0.25]{< UserspacePidNamespace >} (sharedptr.south);
\draw[tmpl] (spterminal.north) -- node[lbl, pos=0.5]{< Process::ControllingTerminal >} (sharedptr.east);
\draw[tmpl] (rangevector.north) -- node[lbl, pos=0.7]{< RangeList::Range >} (vectorT.south);
\draw[tmpl] (threadvector.east) -- node[lbl, pos=0.8]{< Thread * >} (vectorT.south east);
\draw[tmpl] (static128.north) -- node[lbl]{< 128 >} (staticN.south);
\draw[mem] (spvfork.south) -- node[lbl, pos=0.4]{-m\_VforkCompletion} (process.east);
\draw[mem] (spfsctx.south) -- node[lbl, right]{-m\_Context} (fsowner.north);
\draw[mem] (fsowner.south) -- node[lbl, pos=0.4]{-m\_FilesystemContext} (process.east);
\draw[mem] (sppidns.south) -- node[lbl, pos=0.4]{-m\_UserspaceNamespace} (process.east);
\draw[mem] (rangevector.south) -- node[lbl, right]{-m\_List} (rangelist.north);
\draw[mem] (rangelist.south) -- node[lbl, pos=0.4]{-m\_ProcessorIdAllocator\\-m\_RegionIdAllocator} (process.east);
\draw[mem] (static128.south) -- node[lbl, pos=0.4]{-m\_Name} (process.east);
\draw[mem] (spterminal.south) -- node[lbl, pos=0.4]{-m\_pControllingTerminal} (process.east);
\draw[mem] (process.south) -- node[lbl, pos=0.5]{-m\_pProcess} (subsystem.north west);
\draw[mem] (subsystem.north) -- node[lbl, pos=0.5]{-m\_pSubsystem} (process.south east);
\draw[mem] (threadvector.north) -- node[lbl, pos=0.3]{-m\_Threads} (process.south);
\draw[mem] (thread.east) -- (threadvector.west);
\draw[mem] (thread.south east) -- node[lbl, pos=0.6]{-m\_pThread} (threadlease.north);
\draw[mem] (termdeferral.south) -- node[lbl, pos=0.4]{-m\_TerminationDeferral} (threadlease.north west);
\draw[mem] (process.south) -- node[lbl, pos=0.6]{-m\_pProcess} (threadlease.north east);
\draw[mem] (process.south west) -- (termdeferral.north);
\draw[mem] (thread.south west) -- node[lbl, pos=0.6]{-m\_pThread} (reapnode.north east);
\draw[mem] (reapnode.east) .. controls +(0.7,0) and +(0.7,0) .. node[lbl, right]{+next} (reapnode.south east);
\draw[mem] (reapnode.south) -- node[lbl, right]{-m\_DeferredThreadReapStub} (scheduler.north);
\draw[mem] (scheduler.east) -- node[lbl, pos=0.6]{-m\_pScheduler} (thread.south);
\draw[mem] (thread.south) -- node[lbl, pos=0.3]{-m\_AffinityHead\\-m\_AffinityTail\\-m\_pIdleThread} (scheduler.east);
\draw[mem] (threadlease.north east) -- (scheduler.east);
\end{tikzpicture}
\end{document}
